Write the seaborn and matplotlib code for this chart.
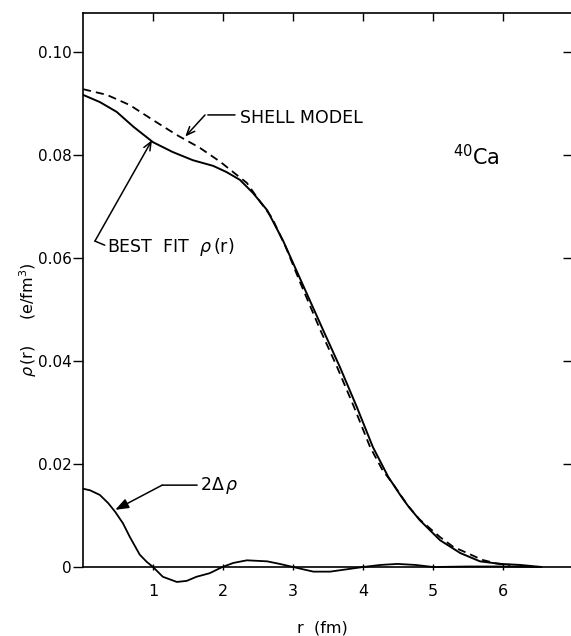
import numpy as np
import pandas as pd
import matplotlib
matplotlib.use("Agg")
import matplotlib.pyplot as plt
import seaborn as sns

# ---- data ----
r_fit = [0.0, 0.24, 0.48, 0.72, 1.0, 1.28, 1.57, 1.86, 2.05, 2.24, 2.43, 2.63, 2.86,
         3.14, 3.43, 3.67, 3.91, 4.14, 4.36, 4.53, 4.64, 4.81, 5.10, 5.39, 5.67, 5.96,
         6.24, 6.55]
rho_fit = [0.0917, 0.0903, 0.0884, 0.0855, 0.0825, 0.0806, 0.0790, 0.0779, 0.0767,
           0.0752, 0.0726, 0.0693, 0.0633, 0.0548, 0.0460, 0.0388, 0.0311, 0.0233,
           0.0175, 0.0140, 0.0119, 0.0091, 0.0052, 0.0027, 0.0011, 0.0006, 0.0004, 0.0]

r_shell = [0.0, 0.34, 0.67, 1.0, 1.34, 1.67, 1.96, 2.2, 2.34, 2.5, 2.7, 2.9, 3.1,
           3.39, 3.63, 3.87, 4.1, 4.27, 4.45, 4.64, 4.81, 5.1, 5.29, 5.49, 5.7, 5.9, 6.1]
rho_shell = [0.0928, 0.0917, 0.0897, 0.0868, 0.0839, 0.0814, 0.0787, 0.0761, 0.0746,
             0.0715, 0.0678, 0.0620, 0.0553, 0.0460, 0.0388, 0.0311, 0.0233, 0.0190,
             0.0157, 0.0119, 0.0092, 0.0058, 0.0039, 0.0027, 0.0014, 0.0007, 0.0004]

r_diff = [0.0, 0.1, 0.24, 0.36, 0.46, 0.57, 0.67, 0.81, 0.91, 1.0, 1.14, 1.34, 1.48,
          1.62, 1.81, 1.99, 2.15, 2.34, 2.63, 2.81, 3.0, 3.29, 3.53, 4.0, 4.25, 4.49,
          4.75, 5.0, 5.5, 6.0, 6.5]
diff2 = [0.0152, 0.0149, 0.0140, 0.0124, 0.0107, 0.0085, 0.0058, 0.0024, 0.0010, 0.0,
         -0.0019, -0.0029, -0.0027, -0.0019, -0.0012, 0.0, 0.0008, 0.0013, 0.0011,
         0.0006, 0.0, -0.0009, -0.0009, 0.0, 0.0004, 0.0006, 0.0004, 0.0, 0.0001,
         0.0001, 0.0]

x_ticks = [1, 2, 3, 4, 5, 6]
y_ticks = [0.0, 0.02, 0.04, 0.06, 0.08, 0.10]
y_ticklabels = ["0", "0.02", "0.04", "0.06", "0.08", "0.10"]

# ---- styling ----
sns.set_style("ticks")
plt.rcParams["font.family"] = ["DejaVu Sans"]
plt.rcParams["mathtext.fontset"] = "dejavusans"
plt.rcParams["text.color"] = "black"
plt.rcParams["xtick.color"] = "black"
plt.rcParams["ytick.color"] = "black"
plt.rcParams["xtick.labelcolor"] = "black"
plt.rcParams["ytick.labelcolor"] = "black"

fig = plt.figure(figsize=(5.71, 6.36), dpi=100)
ax = fig.add_axes([0.1454, 0.0761, 0.8546, 0.9035])

df_fit = pd.DataFrame({"r": r_fit, "rho": rho_fit})
df_shell = pd.DataFrame({"r": r_shell, "rho": rho_shell})
df_diff = pd.DataFrame({"r": r_diff, "rho": diff2})

sns.lineplot(data=df_fit, x="r", y="rho", ax=ax, color="black", lw=1.4)
sns.lineplot(data=df_shell, x="r", y="rho", ax=ax, color="black", lw=1.3,
             linestyle=(0, (4.5, 2.8)))
sns.lineplot(data=df_diff, x="r", y="rho", ax=ax, color="black", lw=1.3)

ax.set_xlim(0, 6.97)
ax.set_ylim(-0.004, 0.1076)

# spines
ax.spines["right"].set_visible(False)
ax.spines["bottom"].set_position(("data", 0))
ax.spines["left"].set_bounds(0, 0.1076)
for s in ["left", "top", "bottom"]:
    ax.spines[s].set_linewidth(1.2)
    ax.spines[s].set_color("black")

ax.set_xticks(x_ticks)
ax.set_xticklabels([str(t) for t in x_ticks])
ax.set_yticks(y_ticks)
ax.set_yticklabels(y_ticklabels)
ax.tick_params(axis="x", which="both", bottom=True, top=True, direction="inout",
               length=5, width=1.0, pad=10, labelsize=11.5, colors="black")
ax.tick_params(axis="x", which="both", top=True, labeltop=False)
ax.tick_params(axis="y", which="both", left=True, right=True, direction="out",
               length=7, width=1.0, pad=1, labelsize=11, colors="black")
# top ticks inward, right ticks inward
for tick in ax.xaxis.get_major_ticks():
    tick.tick2line.set_marker(3)  # TICKDOWN
    tick.tick2line.set_markersize(6)
ax.yaxis.set_ticks_position("both")
for i, tick in enumerate(ax.yaxis.get_major_ticks()):
    tick.tick2line.set_marker(0)  # TICKLEFT
    tick.tick2line.set_markersize(6)
    if y_ticks[i] == 0.0:
        tick.tick2line.set_visible(False)

ax.set_xlabel("")
ax.set_ylabel("")
fig.text(0.049, 1 - 320 / 636, r"$\rho\,$(r)     (e/fm$^3$)", rotation=90,
         ha="center", va="center", fontsize=11.5, color="black")
fig.text(0.565, 1 - 628 / 636, "r  (fm)", ha="center", va="center", fontsize=11.5,
         color="black")

# annotations
txt_kw = dict(fontsize=12.5, color="black", va="center", ha="left")
ax.text(2.24, 0.0872, "SHELL MODEL", **txt_kw)
ax.annotate("", xy=(1.743, 0.0878), xytext=(2.21, 0.0878),
            arrowprops=dict(arrowstyle="-", lw=1.1, color="black"))
ax.annotate("", xy=(1.46, 0.0836), xytext=(1.743, 0.0878),
            arrowprops=dict(arrowstyle="->,head_length=0.6,head_width=0.25",
                            lw=1.1, color="black", shrinkA=0, shrinkB=0))

ax.text(0.34, 0.0621, r"BEST  FIT  $\rho\,$(r)", **txt_kw)
ax.annotate("", xy=(0.17, 0.0633), xytext=(0.31, 0.0625),
            arrowprops=dict(arrowstyle="-", lw=1.1, color="black",
                            shrinkA=0, shrinkB=0))
ax.annotate("", xy=(0.985, 0.0829), xytext=(0.17, 0.0633),
            arrowprops=dict(arrowstyle="->,head_length=0.6,head_width=0.25",
                            lw=1.1, color="black", shrinkA=0, shrinkB=0))

ax.text(1.67, 0.0159, r"2$\Delta\,\rho$", **txt_kw)
ax.annotate("", xy=(1.13, 0.0159), xytext=(1.63, 0.0159),
            arrowprops=dict(arrowstyle="-", lw=1.1, color="black",
                            shrinkA=0, shrinkB=0))
ax.annotate("", xy=(0.46, 0.0111), xytext=(1.13, 0.0159),
            arrowprops=dict(arrowstyle="-|>,head_length=0.8,head_width=0.3",
                            lw=1.1, color="black", fc="black",
                            shrinkA=0, shrinkB=0))

ax.text(5.62, 0.0798, r"$^{40}$Ca", fontsize=15, ha="center", va="center",
        color="black")

fig.savefig("out.png", dpi=100, facecolor="white")
